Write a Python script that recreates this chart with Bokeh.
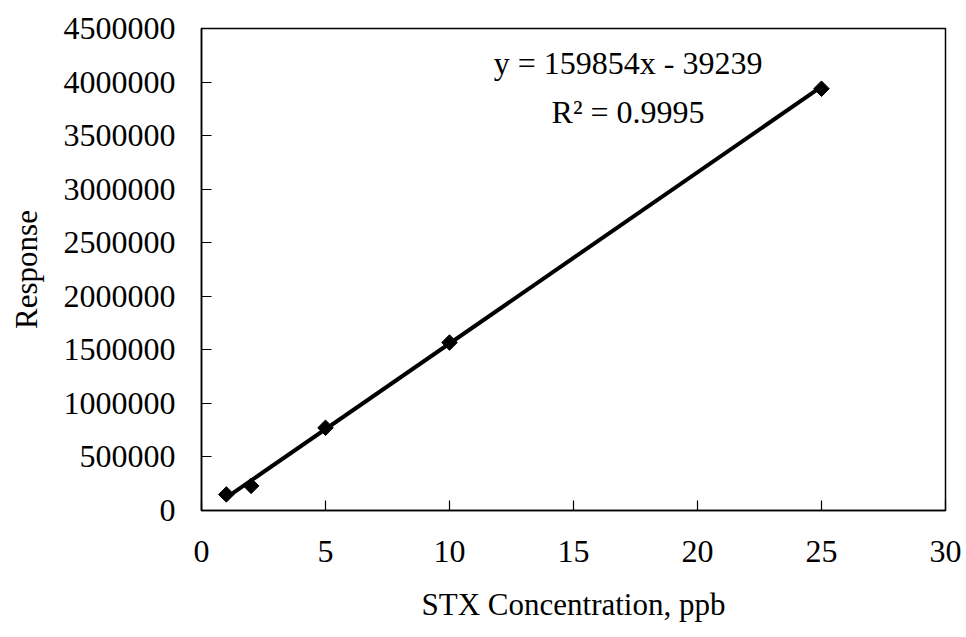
import math
from bokeh.plotting import figure
from bokeh.models import FixedTicker, NumeralTickFormatter, Range1d, Label
from bokeh.embed import file_html
from bokeh.resources import INLINE

# data
concentration = [1, 2, 5, 10, 25]
response = [150000, 230000, 772000, 1568000, 3938000]
slope = 159854
intercept = -39239
fit_x = [1, 25]
x_ticks = [0, 5, 10, 15, 20, 25, 30]
y_ticks = [0, 500000, 1000000, 1500000, 2000000, 2500000, 3000000, 3500000, 4000000, 4500000]
eq_text = "y = 159854x - 39239"
r2_text = "R\u00b2 = 0.9995"

FONT = "Liberation Serif"

p = figure(width=966, height=637, output_backend="svg", toolbar_location=None,
           x_range=Range1d(0, 30), y_range=Range1d(0, 4500000),
           min_border_left=201, min_border_right=21, min_border_top=28, min_border_bottom=127)
p.background_fill_color = "white"
p.border_fill_color = "white"
p.outline_line_color = "black"
p.outline_line_width = 1.5
p.grid.visible = False

fit_y = [slope * x + intercept for x in fit_x]
p.line(fit_x, fit_y, line_color="black", line_width=4)
p.scatter(concentration, response, marker="square", angle=math.pi / 4, size=11,
          fill_color="black", line_color="black")

for ax in (p.xaxis[0], p.yaxis[0]):
    ax.axis_line_color = "black"
    ax.axis_line_width = 1.5
    ax.major_tick_in = 10
    ax.major_tick_out = 0
    ax.major_tick_line_color = "black"
    ax.major_tick_line_width = 1.2
    ax.minor_tick_line_color = None
    ax.major_label_text_font = FONT
    ax.major_label_text_font_size = "32px"
    ax.major_label_text_color = "black"
    ax.axis_label_text_font = FONT
    ax.axis_label_text_font_size = "31px"
    ax.axis_label_text_font_style = "normal"
    ax.axis_label_text_color = "black"

p.xaxis.ticker = FixedTicker(ticks=x_ticks)
p.yaxis.ticker = FixedTicker(ticks=y_ticks)
p.yaxis.formatter = NumeralTickFormatter(format="0")
p.xaxis.formatter = NumeralTickFormatter(format="0")
p.xaxis.axis_label = "STX Concentration, ppb"
p.yaxis.axis_label = "Response"
p.yaxis.major_label_standoff = 26
p.xaxis.major_label_standoff = 30
p.xaxis.axis_label_standoff = 22
p.yaxis.axis_label_standoff = 17

p.add_layout(Label(x=17.2, y=4180000, text=eq_text, text_font=FONT, text_font_size="32px",
                   text_align="center", text_baseline="middle", text_color="black"))
p.add_layout(Label(x=17.2, y=3720000, text=r2_text, text_font=FONT, text_font_size="32px",
                   text_align="center", text_baseline="middle", text_color="black"))

open("out.html", "w").write(file_html(p, INLINE))
